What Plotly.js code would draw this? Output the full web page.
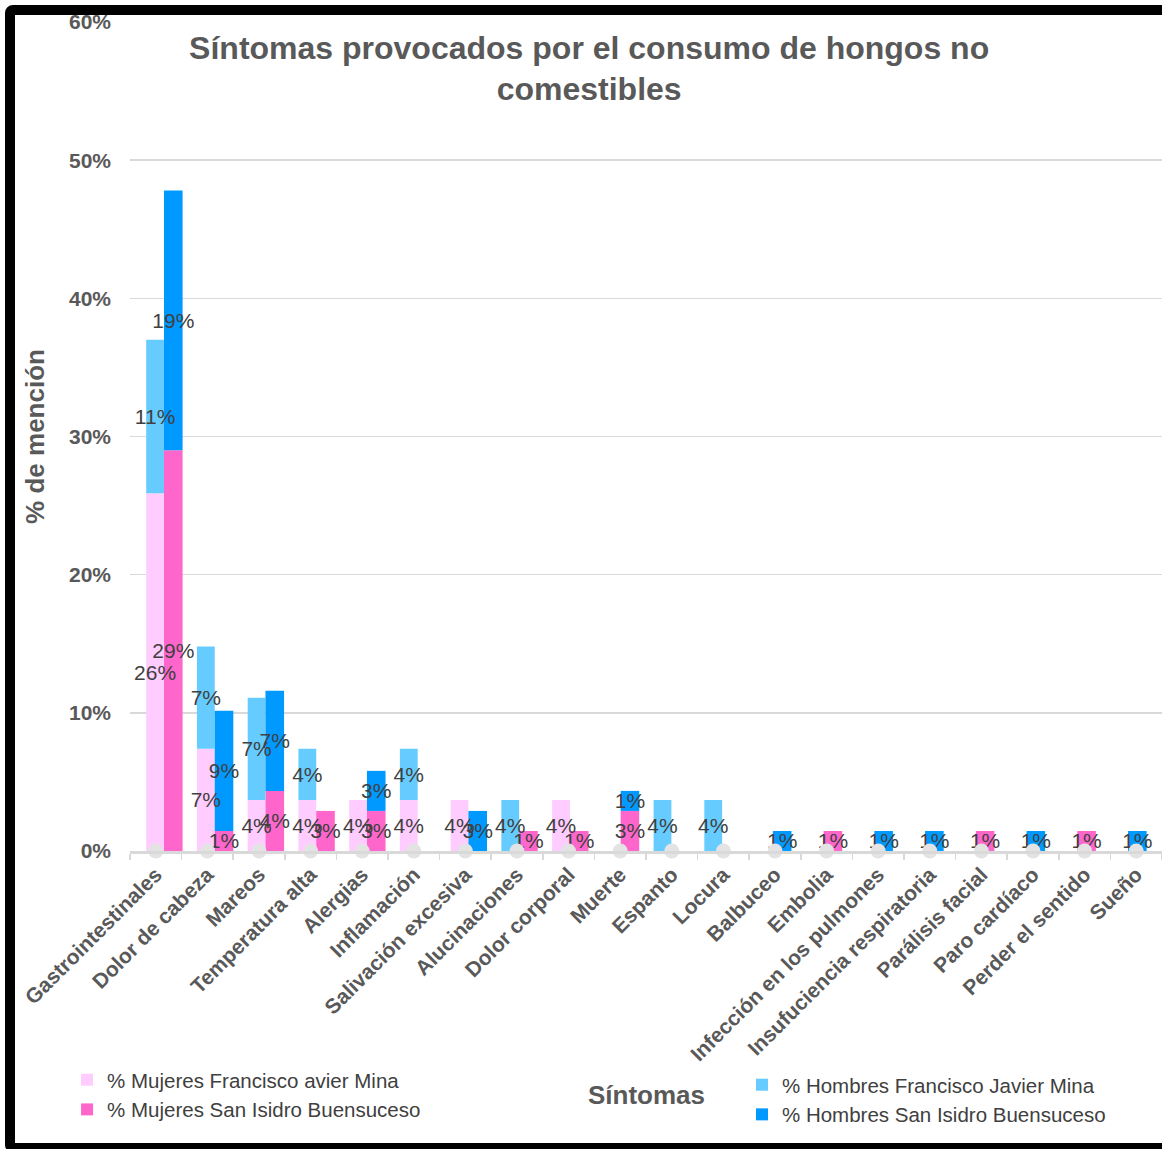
<!DOCTYPE html>
<html>
<head>
<meta charset="utf-8">
<script src="https://cdn.plot.ly/plotly-3.0.1.min.js"></script>
<style>
  html, body { margin: 0; padding: 0; background: #ffffff; overflow: hidden; }
  #wrap { position: relative; width: 1162px; height: 1149px; overflow: hidden; }
  #chart { position: absolute; left: 0; top: 0; width: 1162px; height: 1149px; }
  #frame { position: absolute; left: 5px; top: 5px; width: 1200px; height: 1148px;
           box-sizing: border-box; border: 10px solid #000; border-radius: 8px; pointer-events: none; }
</style>
</head>
<body>
<div id="wrap">
  <div id="chart"></div>
  <div id="frame"></div>
</div>
<script>
const categories = ['Gastrointestinales','Dolor de cabeza','Mareos','Temperatura alta','Alergias','Inflamación','Salivación excesiva','Alucinaciones','Dolor corporal','Muerte','Espanto','Locura','Balbuceo','Embolia','Infección en los pulmones','Insufuciencia respiratoria','Parálisis facial','Paro cardíaco','Perder el sentido','Sueño'];

const mujeresFJM  = [25.9, 7.4, 3.7, 3.7, 3.7, 3.7, 3.7, 0,   3.7, 0,   0,   0,   0,   0,   0,   0,   0,   0,   0,   0];
const hombresFJM  = [11.1, 7.4, 7.4, 3.7, 0,   3.7, 0,   3.7, 0,   0,   3.7, 3.7, 0,   0,   0,   0,   0,   0,   0,   0];
const mujeresSI   = [29.0, 1.45, 4.35, 2.9, 2.9, 0,  0,   1.45, 1.45, 2.9, 0,  0,   0,   1.45, 0,  0,   1.45, 0,  1.45, 0];
const hombresSI   = [18.8, 8.7, 7.25, 0,  2.9, 0,   2.9, 0,   0,   1.45, 0,  0,   1.45, 0,  1.45, 1.45, 0,  1.45, 0,  1.45];
const baseLine    = categories.map(() => 0);

const seriesNames = ['% Mujeres Francisco avier Mina', '% Mujeres San Isidro Buensuceso', '% Hombres Francisco Javier Mina', '% Hombres San Isidro Buensuceso'];
const yTickVals   = [0, 10, 20, 30, 40, 50, 60];
const yTickLabels = ['0%', '10%', '20%', '30%', '40%', '50%', '60%'];

// In the original the bar pairs drift slightly against the category ticks (they sit on a
// separately scaled axis); reproduce that with a per-category offset in category units.
const pairShift = categories.map((_, i) => 0.159 - 0.0167 * i);
const fjmWidth = 0.345, siWidth = 0.36;
const fjmOffset = pairShift.map(s => s - fjmWidth);
const siOffset  = pairShift.map(s => s);

const FONT = 'Liberation Sans, Arial, sans-serif';
const fmt = arr => arr.map(v => v > 0 ? Math.round(v) + '%' : '');
const labelFont = { family: FONT, size: 21, color: '#404040' };

function colorBar(name, y, base, color, offset, width, legend) {
  return {
    type: 'bar', name: name, x: categories, y: y, base: base,
    offset: offset, width: width,
    marker: { color: color, line: { width: 0 } },
    textposition: 'none', legend: legend, hoverinfo: 'x+y+name'
  };
}
function textBar(y, base, offset, width) {
  return {
    type: 'bar', x: categories, y: y, base: base,
    offset: offset, width: width, showlegend: false,
    marker: { color: 'rgba(0,0,0,0)', line: { width: 0 } },
    text: fmt(y), textposition: 'inside', insidetextanchor: 'middle',
    textangle: 0, constraintext: 'none', insidetextfont: labelFont, textfont: labelFont,
    cliponaxis: false, hoverinfo: 'skip'
  };
}

const traces = [
  colorBar(seriesNames[0], mujeresFJM, baseLine, '#FFCCFF', fjmOffset, fjmWidth, 'legend'),
  colorBar(seriesNames[1], mujeresSI, baseLine, '#FF66CC', siOffset, siWidth, 'legend'),
  colorBar(seriesNames[2], hombresFJM, mujeresFJM, '#66CCFF', fjmOffset, fjmWidth, 'legend2'),
  colorBar(seriesNames[3], hombresSI, mujeresSI, '#0099FF', siOffset, siWidth, 'legend2'),
  {
    type: 'scatter', mode: 'markers', x: categories, y: baseLine,
    marker: { size: 15, color: '#E3E3E3' }, showlegend: false, cliponaxis: false, hoverinfo: 'skip'
  },
  textBar(mujeresFJM, baseLine, fjmOffset, fjmWidth),
  textBar(mujeresSI, baseLine, siOffset, siWidth),
  textBar(hombresFJM, mujeresFJM, fjmOffset, fjmWidth),
  textBar(hombresSI, mujeresSI, siOffset, siWidth)
];

const grey = '#595959';
const layout = {
  width: 1162, height: 1149,
  margin: { l: 130, r: 0, t: 22, b: 298 },
  paper_bgcolor: '#ffffff', plot_bgcolor: '#ffffff',
  barmode: 'overlay',
  font: { family: FONT, color: grey },
  title: {
    text: 'Síntomas provocados por el consumo de hongos no<br>comestibles',
    font: { family: FONT, size: 32, color: grey, weight: 'bold' },
    xref: 'container', x: 0.507, xanchor: 'center',
    yref: 'container', y: 0.949, yanchor: 'middle'
  },
  xaxis: {
    type: 'category', categoryorder: 'array', categoryarray: categories,
    range: [-0.5, categories.length - 0.5],
    tickangle: -45,
    tickfont: { family: FONT, size: 21, color: grey, weight: 'bold' },
    ticks: 'outside', tickson: 'boundaries', ticklen: 6, tickcolor: '#D9D9D9', tickwidth: 1.5,
    showline: true, linecolor: '#D9D9D9', linewidth: 3,
    showgrid: false, zeroline: false, automargin: false
  },
  yaxis: {
    range: [0, 60], tickmode: 'array', tickvals: yTickVals, ticktext: yTickLabels,
    tickfont: { family: FONT, size: 21, color: grey, weight: 'bold' },
    showgrid: true, gridcolor: '#D9D9D9', gridwidth: 1.5,
    showline: false, zeroline: false, ticks: '', ticklabelstandoff: 18, automargin: false,
    title: { text: '% de mención', standoff: 16, font: { family: FONT, size: 26, color: grey, weight: 'bold' } }
  },
  annotations: [{
    text: 'Síntomas', xref: 'paper', yref: 'paper', x: 0.5, y: -0.294,
    xanchor: 'center', yanchor: 'middle', showarrow: false,
    font: { family: FONT, size: 26, color: grey, weight: 'bold' }
  }],
  legend: {
    x: -0.061, xanchor: 'left', y: -0.252, yanchor: 'top',
    orientation: 'v', bgcolor: 'rgba(0,0,0,0)', traceorder: 'normal',
    font: { family: FONT, size: 20.5, color: '#404040' }
  },
  legend2: {
    x: 0.593, xanchor: 'left', y: -0.258, yanchor: 'top',
    orientation: 'v', bgcolor: 'rgba(0,0,0,0)', traceorder: 'normal',
    font: { family: FONT, size: 20.5, color: '#404040' }
  },
  showlegend: true
};

Plotly.newPlot('chart', traces, layout, { displayModeBar: false, staticPlot: true });
</script>
</body>
</html>
